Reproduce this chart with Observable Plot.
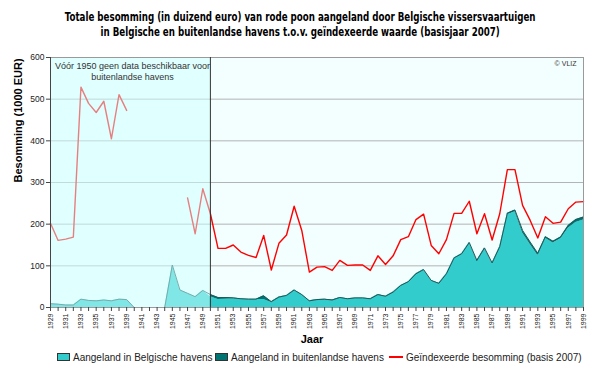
<!DOCTYPE html>
<html>
<head>
<meta charset="utf-8">
<script src="https://cdn.jsdelivr.net/npm/d3@7"></script>
<script src="https://cdn.jsdelivr.net/npm/@observablehq/plot@0.6"></script>
<style>
  html, body { margin: 0; padding: 0; background: #fff; }
  #wrap { width: 600px; height: 368px; position: relative; overflow: hidden; }
  #title { height: 45px; box-sizing: border-box; padding-top: 10px; text-align: center; }
  #title span { display: inline-block; transform: scaleX(0.84); transform-origin: center;
    font-family: "Liberation Sans Narrow", "DejaVu Sans Condensed", "Liberation Sans", sans-serif;
    font-weight: bold; font-size: 11.5px; line-height: 15px; color: #000; white-space: nowrap; }
  #chart svg { display: block; }
  #legend { position: absolute; top: 349px; left: 0; width: 600px; height: 16px;
    font-family: "Liberation Sans", Arial, sans-serif; font-size: 10px; color: #222; }
  .item { position: absolute; top: 0; display: flex; align-items: center; height: 16px; white-space: nowrap; }
  .sw { width: 13px; height: 8px; border: 1px solid #333; margin-right: 3px; box-sizing: border-box; }
  .ln { width: 14px; height: 2px; background: #ff0000; margin-right: 3px; }
</style>
</head>
<body>
<div id="wrap">
  <div id="title"><span>Totale besomming (in duizend euro) van rode poon aangeland door Belgische vissersvaartuigen<br>in Belgische en buitenlandse havens t.o.v. geïndexeerde waarde (basisjaar 2007)</span></div>
  <div id="chart"></div>
  <div id="legend"></div>
</div>
<script>
// ---- data ----
const years = d3.range(1929, 2000);
const belgian = [
  9, 8, 6, 6, 20, 17, 16, 18, 16, 20, 19,          // 1929-1939
  0, 0, 0, 0, 0, 102, 42, 34, 26, 41,             // 1940-1949
  26, 19, 20, 21, 20, 19, 19, 19, 12, 24,         // 1950-1959
  28, 41, 30, 15, 18, 18, 16, 23, 20, 22,         // 1960-1969
  22, 20, 30, 26, 36, 52, 61, 80, 90, 64,         // 1970-1979
  57, 80, 118, 128, 155, 110, 141, 105, 144, 223, // 1980-1989
  230, 179, 151, 125, 166, 155, 165, 190, 204, 210 // 1990-1999
];
const foreign = [
  null, null, null, null, null, null, null, null, null, null, null,
  null, null, null, null, null, null, null, null, null, null,
  5, 5, 4, 2, 1, 1, 1, 9, 2, 1,
  1, 1, 1, 1, 1, 2, 2, 1, 1, 1,
  1, 1, 1, 1, 1, 1, 1, 1, 1, 1,
  1, 1, 1, 1, 1, 3, 2, 2, 2, 3,
  4, 6, 6, 5, 4, 4, 4, 7, 7, 7
];
const indexed = [
  202, 161, 164, 169, 529, 490, 468, 495, 405, 511, 473,
  null, null, null, null, null, null, null, 263, 177, 285,
  225, 142, 142, 150, 133, 125, 120, 173, 90, 154,
  174, 243, 185, 85, 97, 98, 89, 113, 101, 102,
  102, 89, 124, 103, 124, 163, 170, 211, 224, 149,
  129, 163, 226, 226, 255, 177, 225, 162, 225, 331,
  331, 245, 209, 167, 218, 202, 205, 237, 253, 254
];
const yTicks = [0, 100, 200, 300, 400, 500, 600];
const gridTicks = [100, 200, 300, 400, 500];
const noForeignPeriod = [{x1: 1929, x2: 1950}];
const noteText = "Vóór 1950 geen data beschikbaar voor\nbuitenlandse havens";
const seriesNames = ["Aangeland in Belgische havens", "Aangeland in buitenlandse havens", "Geïndexeerde besomming (basis 2007)"];
const colors = ["#33cccc", "#007373", "#ff0000"];

const rows = years.map((year, i) => ({
  year,
  belgian: belgian[i],
  foreign: foreign[i],
  total: belgian[i] + (foreign[i] ?? 0),
  indexed: indexed[i]
}));
const foreignRows = rows.filter(d => d.foreign != null);

const chart = Plot.plot({
  width: 600,
  height: 305,
  marginLeft: 50,
  marginRight: 17,
  marginTop: 12,
  marginBottom: 43,
  style: { fontFamily: "Liberation Sans, Arial, sans-serif", fontSize: "7.5px", color: "#222", background: "transparent" },
  x: { domain: [1929, 1999] },
  y: { domain: [0, 600] },
  marks: [
    Plot.frame({ fill: "#f3fefe", stroke: null }),
    Plot.gridY(gridTicks, { stroke: "#b4b4b4", strokeOpacity: 1 }),
    Plot.areaY(rows, { x: "year", y: "belgian", fill: colors[0] }),
    Plot.areaY(foreignRows, { x: "year", y1: "belgian", y2: "total", fill: colors[1] }),
    Plot.line(rows, { x: "year", y: "total", stroke: "#1d5a5a", strokeWidth: 1 }),
    Plot.line(rows, { x: "year", y: "indexed", stroke: colors[2], strokeWidth: 1.4 }),
    Plot.rect(noForeignPeriod, { x1: "x1", x2: "x2", fill: "rgb(205,255,255)", fillOpacity: 0.5 }),
    Plot.frame({ stroke: "#9a9a9a" }),
    Plot.ruleX([1950], { stroke: "#333", strokeWidth: 1 }),
    Plot.ruleX([1929], { stroke: "#444", strokeWidth: 1 }),
    Plot.axisY({ ticks: yTicks, tickSize: 4, tickPadding: 2, label: null, stroke: "#444", fontSize: 8.5 }),
    Plot.axisX({ ticks: years, tickSize: 4, tickPadding: 2, tickRotate: -90, label: null,
      tickFormat: d => d % 2 ? String(d) : "", stroke: "#444", fontSize: 7 }),
    Plot.text(noForeignPeriod, { x: d => (d.x1 + d.x2) / 2, frameAnchor: "top", dx: 2, dy: 3, lineAnchor: "top",
      text: () => noteText, fontSize: 9, lineHeight: 1.28, fill: "#333" }),
    Plot.text(["© VLIZ"], { frameAnchor: "top-right", dx: -7, dy: 4, lineAnchor: "top", textAnchor: "end", fontSize: 7, fill: "#333" }),
    Plot.text(["Jaar"], { frameAnchor: "bottom", dx: -5, dy: 35, fontSize: 11, fontWeight: "bold", fill: "#000" }),
    Plot.text(["Besomming (1000 EUR)"], { frameAnchor: "left", dx: -32, rotate: -90, fontSize: 11, fontWeight: "bold", fill: "#000" })
  ]
});
document.getElementById("chart").appendChild(chart);

// ---- legend ----
const legend = document.getElementById("legend");
const positions = [57, 215, 389];
seriesNames.forEach((name, i) => {
  const item = document.createElement("div");
  item.className = "item";
  item.style.left = positions[i] + "px";
  const sw = document.createElement("span");
  if (i < 2) { sw.className = "sw"; sw.style.background = colors[i]; }
  else { sw.className = "ln"; sw.style.background = colors[i]; }
  item.appendChild(sw);
  const t = document.createElement("span");
  t.textContent = name;
  item.appendChild(t);
  legend.appendChild(item);
});
</script>
</body>
</html>
